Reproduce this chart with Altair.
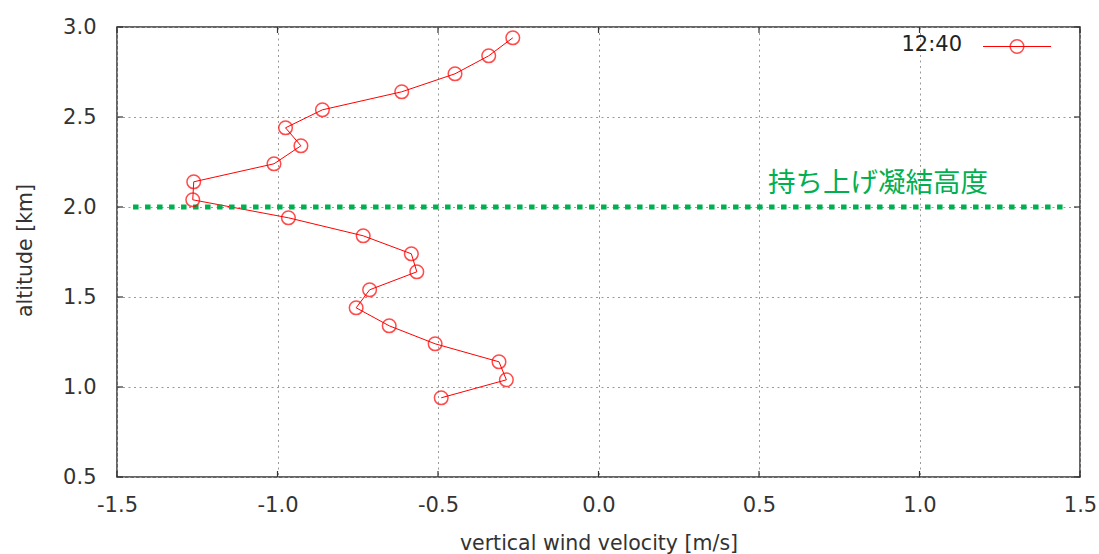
import altair as alt
import pandas as pd

# --- data ---
altitude_km = [0.94, 1.04, 1.14, 1.24, 1.34, 1.44, 1.54, 1.64, 1.74, 1.84, 1.94,
               2.04, 2.14, 2.24, 2.34, 2.44, 2.54, 2.64, 2.74, 2.84, 2.94]
velocity_ms = [-0.490, -0.287, -0.310, -0.509, -0.652, -0.755, -0.713, -0.566, -0.583,
               -0.733, -0.966, -1.264, -1.261, -1.011, -0.927, -0.975, -0.860, -0.613,
               -0.447, -0.342, -0.267]
x_ticks = [-1.5, -1.0, -0.5, 0.0, 0.5, 1.0, 1.5]
y_ticks = [0.5, 1.0, 1.5, 2.0, 2.5, 3.0]
lcl_altitude = [2.0]
lcl_x_range = [-1.45, 1.45]
lcl_label = "持ち上げ凝結高度"
lcl_label_pos = [0.528, 2.13]
series_name = "12:40"

FONT = "DejaVu Sans"
W, H = 963, 450

df = pd.DataFrame({"v": velocity_ms, "alt": altitude_km})
xs = alt.Scale(domain=[-1.5, 1.5], nice=False, zero=False)
ys = alt.Scale(domain=[0.5, 3.0], nice=False, zero=False)
lab = "replace(format(datum.value, '.1f'), '\u2212', '-')"

xaxis = alt.Axis(values=x_ticks, labelExpr=lab, grid=True, gridDash=[2, 3.5], gridColor="#9a9a9a",
                 gridWidth=1, ticks=False, domain=False, labelPadding=17, labelFlush=False,
                 labelFont=FONT, labelFontSize=21, labelColor="#333",
                 title="vertical wind velocity [m/s]",
                 titleFont=FONT, titleFontSize=20.5, titleFontWeight="normal", titleColor="#333",
                 titleBaseline="alphabetic", titleY=72)
yaxis = alt.Axis(values=y_ticks, labelExpr=lab, grid=True, gridDash=[2, 3.5], gridColor="#9a9a9a",
                 gridWidth=1, ticks=False, domain=False, labelPadding=21, labelFlush=False,
                 labelFont=FONT, labelFontSize=21, labelColor="#333", title="altitude [km]",
                 titleFont=FONT, titleFontSize=20.5, titleFontWeight="normal", titleColor="#333",
                 titleBaseline="alphabetic", titleAngle=270, titleX=-86, titleY=223,
                 titleAlign="center")

base = alt.Chart(df)

line = base.mark_line(color="#ff0000", strokeWidth=1).encode(
    x=alt.X("v:Q", scale=xs, axis=xaxis),
    y=alt.Y("alt:Q", scale=ys, axis=yaxis),
    order="alt:Q",
)
points = base.mark_point(shape="circle", filled=False, color="#ff0000", strokeWidth=1.5, size=185).encode(
    x=alt.X("v:Q", scale=xs), y=alt.Y("alt:Q", scale=ys)
)

lcl_df = pd.DataFrame({"x1": [lcl_x_range[0]], "x2": [lcl_x_range[1]], "y": lcl_altitude})
lcl = alt.Chart(lcl_df).mark_rule(color="#00b050", strokeWidth=5, strokeDash=[5.5, 6.5], strokeCap="butt").encode(
    x=alt.X("x1:Q", scale=xs), x2="x2:Q", y=alt.Y("y:Q", scale=ys)
)
lbl_df = pd.DataFrame({"x": [lcl_label_pos[0]], "y": [lcl_label_pos[1]], "t": [lcl_label]})
lcl_text = alt.Chart(lbl_df).mark_text(font="Noto Sans CJK JP", fontSize=27.5, color="#00b050",
                                       align="left", baseline="middle").encode(
    x=alt.X("x:Q", scale=xs), y=alt.Y("y:Q", scale=ys), text="t:N"
)

# mirrored inward ticks
xt = pd.DataFrame({"t": x_ticks})
yt = pd.DataFrame({"t": y_ticks})
tick_style = dict(color="#333", strokeWidth=1.2)
xt_bot = alt.Chart(xt).mark_rule(**tick_style).encode(
    x=alt.X("t:Q", scale=xs), y=alt.value(H), y2=alt.value(H - 6))
xt_top = alt.Chart(xt).mark_rule(**tick_style).encode(
    x=alt.X("t:Q", scale=xs), y=alt.value(0), y2=alt.value(6))
yt_left = alt.Chart(yt).mark_rule(**tick_style).encode(
    y=alt.Y("t:Q", scale=ys), x=alt.value(0), x2=alt.value(6))
yt_right = alt.Chart(yt).mark_rule(**tick_style).encode(
    y=alt.Y("t:Q", scale=ys), x=alt.value(W), x2=alt.value(W - 6))

# legend (key drawn in the top-right corner, as in the reference)
leg_df = pd.DataFrame({"name": [series_name]})
leg_text = alt.Chart(leg_df).mark_text(font=FONT, fontSize=21, color="#222", align="right",
                                       baseline="middle").encode(
    x=alt.value(845), y=alt.value(18), text="name:N")
leg_line = alt.Chart(leg_df).mark_rule(color="#ff0000", strokeWidth=1.2).encode(
    x=alt.value(866), x2=alt.value(934), y=alt.value(19.5))
leg_pt = alt.Chart(leg_df).mark_point(shape="circle", filled=False, color="#ff0000", strokeWidth=1.5,
                                      size=185).encode(x=alt.value(900), y=alt.value(19.5))

chart = alt.layer(
    line, lcl, points, lcl_text, xt_bot, xt_top, yt_left, yt_right, leg_line, leg_pt, leg_text
).properties(
    width=W, height=H,
    autosize=alt.AutoSizeParams(type="none"),
    padding={"left": 117, "top": 27, "right": 19, "bottom": 77},
    background="white",
).configure_view(stroke="#333", strokeWidth=1.5)

chart.save("out.html", embed_options={"renderer": "svg", "actions": False})
